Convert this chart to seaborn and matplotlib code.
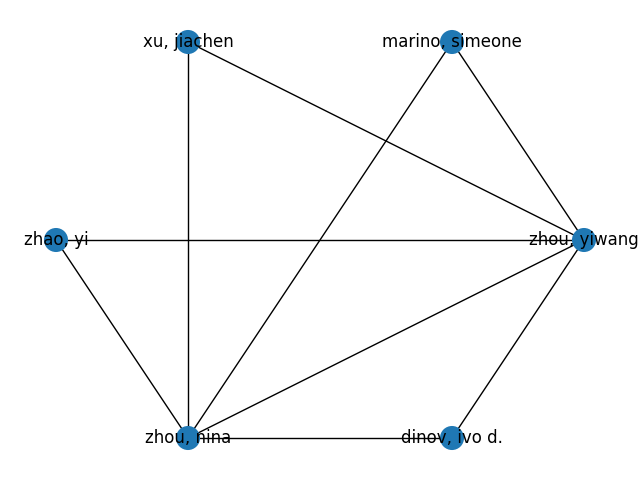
import matplotlib
matplotlib.use('Agg')
import matplotlib.pyplot as plt
import numpy as np
import pandas as pd
import seaborn as sns

# nodes in circular-layout order (angle 0, 60, 120, ...)
names = ['zhou, yiwang', 'marino, simeone', 'xu, jiachen', 'zhao, yi', 'zhou, nina', 'dinov, ivo d.']
edges = [('xu, jiachen', 'zhou, nina'), ('xu, jiachen', 'zhou, yiwang'),
         ('marino, simeone', 'zhou, nina'), ('marino, simeone', 'zhou, yiwang'),
         ('zhao, yi', 'zhou, yiwang'), ('zhao, yi', 'zhou, nina'),
         ('zhou, nina', 'zhou, yiwang'), ('zhou, nina', 'dinov, ivo d.'),
         ('dinov, ivo d.', 'zhou, yiwang')]

ang = np.arange(len(names)) * 2 * np.pi / len(names)
pos = pd.DataFrame({'name': names, 'x': np.cos(ang), 'y': np.sin(ang)}).set_index('name')

fig = plt.figure(figsize=(6.4, 4.8), dpi=100)
ax = fig.add_axes((0, 0, 1, 1))
for a, b in edges:
    ax.plot([pos.loc[a, 'x'], pos.loc[b, 'x']], [pos.loc[a, 'y'], pos.loc[b, 'y']],
            color='black', lw=1, zorder=1)
sns.scatterplot(data=pos.reset_index(), x='x', y='y', s=300, color='#1f78b4',
                edgecolor='none', ax=ax, zorder=2)
for n, r in pos.iterrows():
    ax.text(r['x'], r['y'], n, ha='center', va='center', fontsize=12, zorder=3)
ax.set_xlim(-1.2121, 1.2121)
ax.set_ylim(-1.0497, 1.0497)
ax.axis('off')
fig.savefig('out.png')
